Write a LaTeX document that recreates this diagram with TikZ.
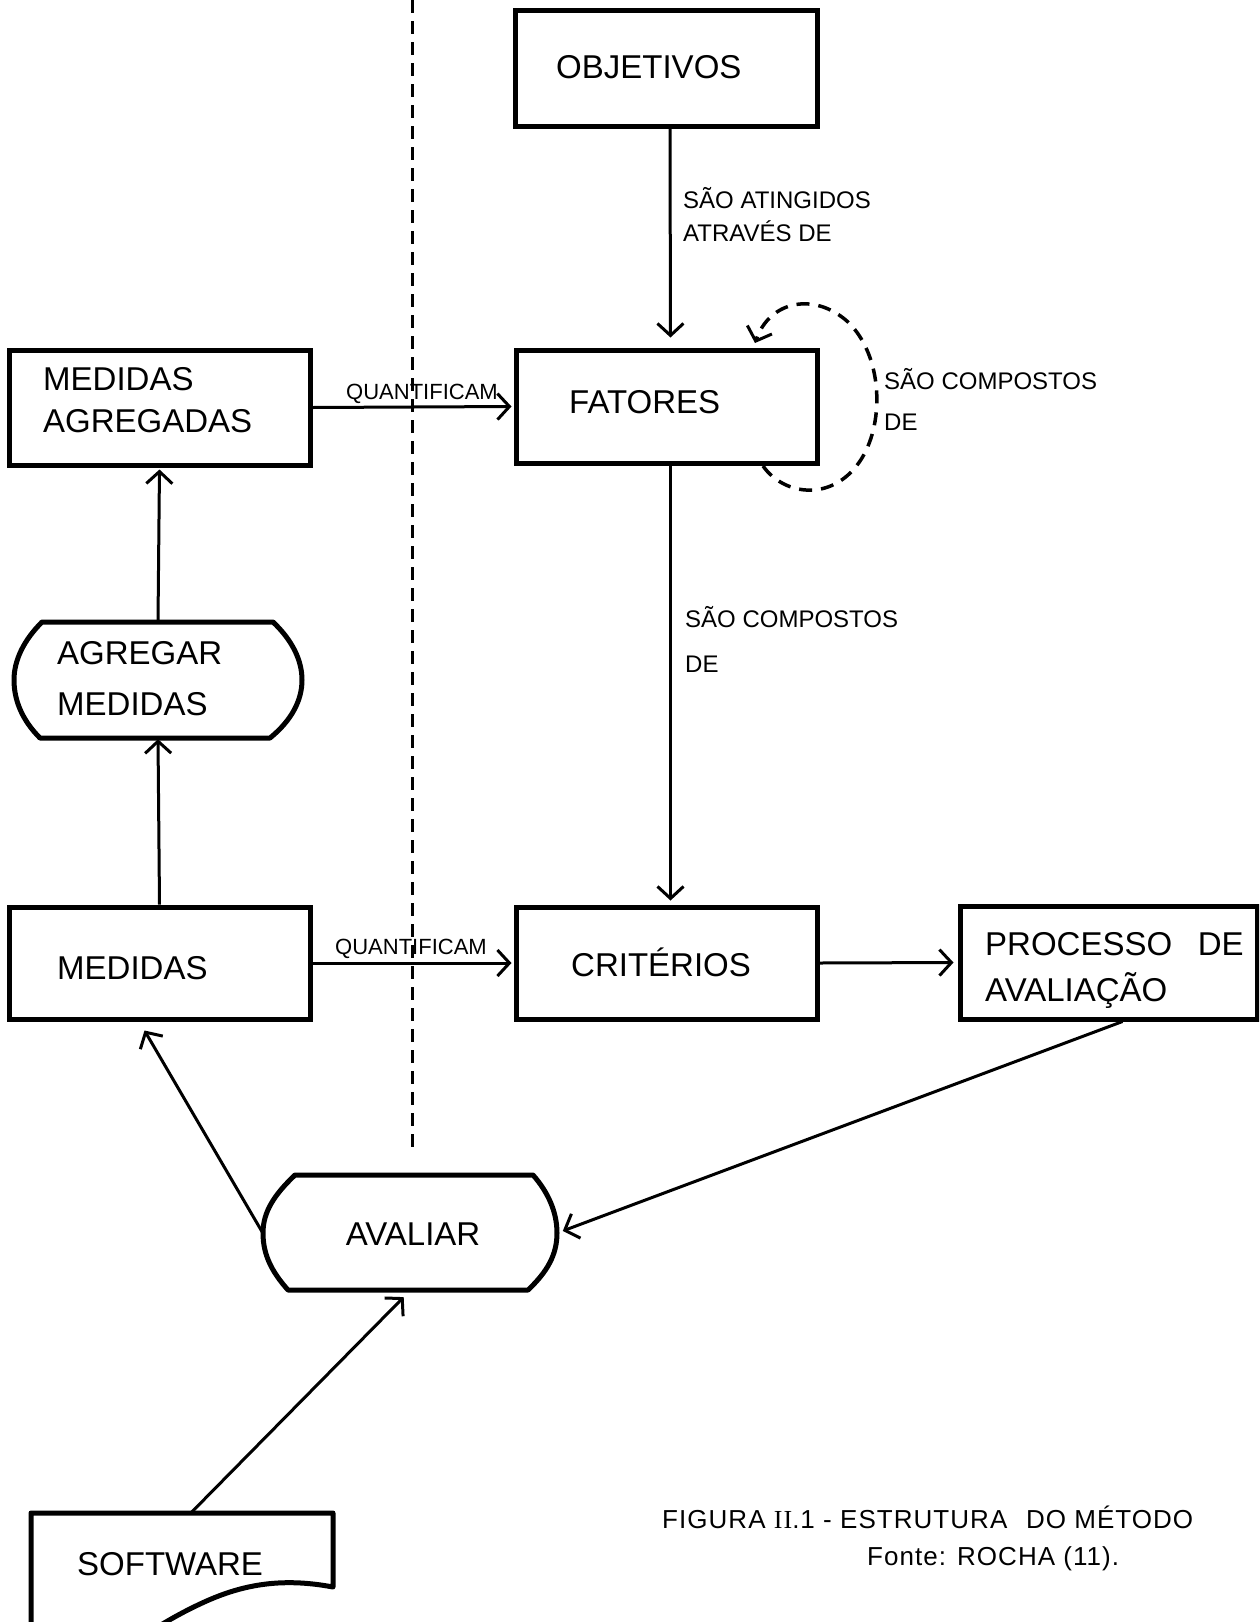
\documentclass[tikz,border=0pt]{standalone}
\usepackage{fontspec}
\setmainfont{Liberation Sans}
\newfontfamily\capfont[LetterSpace=4]{Liberation Sans}
\newfontfamily\romfont[LetterSpace=4]{Liberation Serif}
\usetikzlibrary{arrows.meta}
\begin{document}
\begin{tikzpicture}[x=1pt,y=-1pt,
  box/.style={draw, line width=5pt, inner sep=0pt},
  ghost/.style={inner sep=0pt},
  shapeline/.style={line width=5pt, line join=round},
  conn/.style={line width=3pt, shorten >=4pt, -{Straight Barb[length=12pt,width=26pt,line width=3pt]}},
  bigtxt/.style={inner sep=0pt, anchor=base west, align=left},
  lbl/.style={font=\fontsize{24}{33}\selectfont, inner sep=0pt, anchor=base west, align=left},
]
\path[use as bounding box] (0,0) rectangle (1259,1622);
\clip (0,0) rectangle (1259,1622);

% dashed separator
\coordinate (dtop) at (412,0);
\coordinate (dbot) at (412,1153);
\draw[line width=3pt, dash pattern=on 13pt off 8pt] (dtop) -- (dbot);

% boxes
\node[box, minimum width=302pt, minimum height=116pt] (obj) at (666,68) {};
\node[box, minimum width=301pt, minimum height=113pt] (fat) at (666.5,406.5) {};
\node[box, minimum width=301pt, minimum height=115pt] (ma) at (159.5,407.5) {};
\node[box, minimum width=301pt, minimum height=112pt] (crit) at (666.5,963) {};
\node[box, minimum width=297pt, minimum height=113pt] (proc) at (1108.5,962.5) {};
\node[box, minimum width=301pt, minimum height=112pt] (med) at (159.5,963) {};

% rounded process shapes
\node[ghost, minimum width=290pt, minimum height=116pt] (agr) at (158,680) {};
\draw[shapeline] (42,622) -- (273,622) .. controls (292,640) and (302,660) .. (302,680)
  .. controls (302,700) and (292,720) .. (270,738) -- (40,738)
  .. controls (22,720) and (14,700) .. (14,680) .. controls (14,660) and (24,640) .. (42,622) -- cycle;

\node[ghost, minimum width=294pt, minimum height=115pt] (aval) at (410,1233) {};
\draw[shapeline] (295,1175) -- (533,1175) .. controls (548,1192) and (557,1212) .. (557,1233)
  .. controls (557,1255) and (547,1272) .. (528,1290) -- (288,1290)
  .. controls (272,1272) and (263,1255) .. (263,1233) .. controls (263,1212) and (274,1195) .. (295,1175) -- cycle;

% software document shape
\node[ghost, minimum width=302pt, minimum height=74pt] (sw) at (182,1550) {};
\draw[shapeline] (31,1650) -- (31,1513) -- (333,1513) -- (333,1587)
  .. controls (280,1577) and (240,1585) .. (200,1604) .. controls (170,1618) and (150,1632) .. (120,1650);

% texts in boxes
\begin{scope}[font=\fontsize{33}{42}\selectfont]
\node[bigtxt] (tobj) at (556,78) {OBJETIVOS};
\node[bigtxt] (tfat) at (569,413) {FATORES};
\node[bigtxt, font=\fontsize{33}{42}\selectfont] (tma) at (43,432) {MEDIDAS\\AGREGADAS};
\node[bigtxt] (tcrit) at (571,976) {CRITÉRIOS};
\node[bigtxt] (tmed) at (57,979) {MEDIDAS};
\node[bigtxt, font=\fontsize{33}{46}\selectfont] (tproc) at (985,1001) {PROCESSO\hspace{0.5em} DE\\AVALIAÇÃO};
\node[bigtxt, font=\fontsize{33}{51}\selectfont] (tagr) at (57,715) {AGREGAR\\MEDIDAS};
\node[inner sep=0pt, anchor=base] (taval) at (413,1245) {AVALIAR};
\node[bigtxt] (tsw) at (77,1575) {SOFTWARE};
\end{scope}

% connectors
\draw[conn, shorten >=10pt] ([xshift=4pt]obj.south) -- ([xshift=4pt]fat.north);
\draw[conn] ([xshift=4pt]fat.south) -- ([xshift=4pt]crit.north);
\draw[conn, shorten >=2pt] (ma.east) -- (fat.west);
\draw[conn, shorten >=2pt] (med.east) -- (crit.west);
\draw[conn] (crit.east) -- (proc.west);
\draw[conn, shorten >=1pt] (med.north) -- (agr.south);
\draw[conn, shorten >=2pt] (agr.north) -- (ma.south);
\draw[conn, shorten >=0pt] (aval.west) -- ([xshift=-15pt,yshift=-9pt]med.south);
\draw[conn, shorten >=6pt] ([xshift=14pt]proc.south) -- (aval.east);
\draw[conn, shorten >=9pt] ([xshift=9pt]sw.north) -- (aval.south);

% self loop
\coordinate (loopA) at (763,466);
\coordinate (loopB) at (755,343);
\draw[line width=3.5pt, dash pattern=on 13pt off 9pt, -{Straight Barb[length=12pt,width=26pt,line width=3pt]}]
  (loopA) .. controls (785,497) and (835,502) .. (862,458)
  .. controls (885,420) and (882,355) .. (848,322)
  .. controls (815,292) and (770,300) .. (loopB);

% labels
\node[lbl] (l1) at (683,241) {SÃO ATINGIDOS\\ATRAVÉS DE};
\node[lbl, font=\fontsize{24}{41}\selectfont] (l2) at (884,430) {SÃO COMPOSTOS\\DE};
\node[lbl, font=\fontsize{24}{45}\selectfont] (l3) at (685,672) {SÃO COMPOSTOS\\DE};
\node[inner sep=0pt, anchor=base, font=\fontsize{22}{25}\selectfont] (q1) at (422,399) {QUANTIFICAM};
\node[inner sep=0pt, anchor=base, font=\fontsize{22}{25}\selectfont] (q2) at (411,954) {QUANTIFICAM};

% caption
\node[inner sep=0pt, anchor=base west, font=\fontsize{26}{30}\capfont] (cap1) at (662,1528) {FIGURA {\romfont II}.1 - ESTRUTURA\hspace{0.4em} DO MÉTODO};
\node[inner sep=0pt, anchor=base west, font=\fontsize{26}{30}\capfont] (cap2) at (867,1565) {Fonte: ROCHA (11).};
\end{tikzpicture}
\end{document}
